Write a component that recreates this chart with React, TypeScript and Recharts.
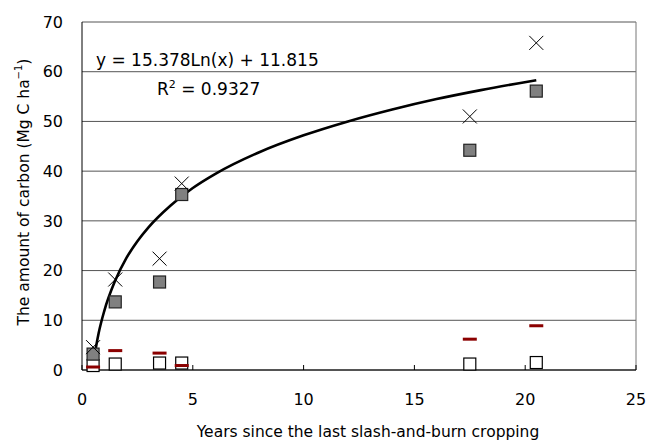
import { CartesianGrid, ComposedChart, Line, ReferenceLine, Scatter, XAxis, YAxis } from "recharts";

document.body.style.margin = "0";

// years since the last slash-and-burn cropping
const years = [0.5, 1.5, 3.5, 4.5, 17.5, 20.5];
// carbon (Mg C ha-1) per marker type
const crossCarbon = [4.6, 18.2, 22.4, 37.5, 51.0, 65.8];
const graySquareCarbon = [3.2, 13.7, 17.7, 35.3, 44.2, 56.1];
const whiteSquareCarbon = [0.9, 1.2, 1.4, 1.4, 1.2, 1.5];
const redDashCarbon = [0.6, 3.9, 3.4, 0.9, 6.2, 8.9];

// logarithmic trend line
const trendYears = [0.5, 0.75, 1, 1.5, 2, 2.5, 3, 4, 5, 6, 8, 10, 12, 14, 16, 18, 20.5];
const trendCarbon = [1.2, 7.4, 11.8, 18.0, 22.5, 25.9, 28.7, 33.1, 36.6, 39.4, 43.8, 47.2, 50.0, 52.4, 54.5, 56.3, 58.3];

const xTicks = [0, 5, 10, 15, 20, 25];
const yTicks = [0, 10, 20, 30, 40, 50, 60, 70];

const toPoints = (ys: number[]) => years.map((x, i) => ({ x, y: ys[i] }));
const trend = trendYears.map((x, i) => ({ x, y: trendCarbon[i] }));

const FONT = "'DejaVu Sans', sans-serif";

const Cross = ({ cx, cy }: any) => (
  <path
    d={`M${cx - 7},${cy - 7}L${cx + 7},${cy + 7}M${cx - 7},${cy + 7}L${cx + 7},${cy - 7}`}
    stroke="#000"
    strokeWidth={1}
    fill="none"
  />
);

const GraySquare = ({ cx, cy }: any) => (
  <rect x={cx - 6} y={cy - 6} width={12} height={12} fill="#808080" stroke="#222" strokeWidth={1.2} />
);

const WhiteSquare = ({ cx, cy }: any) => (
  <rect x={cx - 6} y={cy - 6} width={12} height={12} fill="#fff" stroke="#000" strokeWidth={1.2} />
);

const RedDash = ({ cx, cy }: any) => (
  <rect x={cx - 7} y={cy - 1.5} width={14} height={3} fill="#8b0000" />
);

export default function App() {
  return (
    <div style={{ position: "relative", width: 649, height: 440, fontFamily: FONT }}>
      <ComposedChart width={649} height={440} margin={{ top: 22, right: 13, left: 0, bottom: 0 }}>
        <CartesianGrid vertical={false} stroke="#555" />
        <XAxis
          type="number"
          dataKey="x"
          domain={[0, 25]}
          ticks={xTicks}
          height={70}
          stroke="#000"
          tickSize={-5}
          tickMargin={29}
          tick={{ fill: "#000", fontSize: 16, fontFamily: FONT }}
          label={{
            content: () => (
              <text x={368} y={437} textAnchor="middle" fontSize={15.5} fontFamily={FONT} fill="#000">
                Years since the last slash-and-burn cropping
              </text>
            ),
          }}
        />
        <YAxis
          type="number"
          domain={[0, 70]}
          ticks={yTicks}
          width={82}
          stroke="#000"
          tickSize={0}
          tickMargin={19}
          tick={{ fill: "#000", fontSize: 16, fontFamily: FONT }}
          label={{
            content: () => (
              <text
                x={24}
                y={192}
                transform="rotate(-90, 24, 192)"
                textAnchor="middle"
                dominantBaseline="central"
                fontSize={15.5}
                fontFamily={FONT}
                fill="#000"
              >
                The amount of carbon (Mg C ha
                <tspan dy={-6} fontSize={10}>
                  −1
                </tspan>
                <tspan dy={6}>)</tspan>
              </text>
            ),
          }}
        />
        <ReferenceLine x={25} stroke="#777" />
        <Scatter data={toPoints(whiteSquareCarbon)} dataKey="y" shape={WhiteSquare} isAnimationActive={false} />
        <Scatter data={toPoints(graySquareCarbon)} dataKey="y" shape={GraySquare} isAnimationActive={false} />
        <Scatter data={toPoints(crossCarbon)} dataKey="y" shape={Cross} isAnimationActive={false} />
        <Scatter data={toPoints(redDashCarbon)} dataKey="y" shape={RedDash} isAnimationActive={false} />
        <Line
          data={trend}
          dataKey="y"
          type="monotone"
          dot={false}
          stroke="#000"
          strokeWidth={2.6}
          isAnimationActive={false}
        />
      </ComposedChart>
      <svg width={649} height={440} style={{ position: "absolute", left: 0, top: 0, pointerEvents: "none" }}>
        <text x={96} y={66} fontSize={17} fontFamily={FONT} fill="#000">
          y = 15.378Ln(x) + 11.815
        </text>
        <text x={157} y={95} fontSize={17} fontFamily={FONT} fill="#000">
          R<tspan dy={-7} fontSize={11}>2</tspan>
          <tspan dy={7}> = 0.9327</tspan>
        </text>
      </svg>
    </div>
  );
}
